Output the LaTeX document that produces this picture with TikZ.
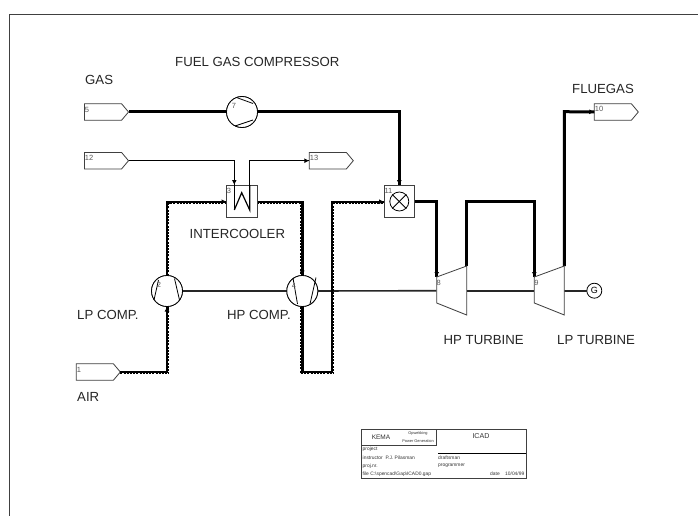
\documentclass[tikz,border=0pt]{standalone}
\usepackage{fontspec}
\setmainfont{Liberation Sans}
\usetikzlibrary{arrows.meta,shapes.symbols}
\definecolor{numgrey}{gray}{0.35}
\definecolor{edge}{gray}{0.25}
\tikzset{
  streambox/.style={shape=signal,signal to=east,signal from=nowhere,signal pointer angle=100,draw=edge,line width=0.8pt,fill=white,minimum width=44pt,minimum height=16.6pt,inner sep=0pt,outer sep=0pt,anchor=west},
  comp/.style={circle,draw=black,line width=0.8pt,fill=white,minimum size=31pt,inner sep=0pt,outer sep=0pt},
  unitbox/.style={rectangle,draw=edge,line width=0.9pt,fill=white,minimum width=30.5pt,minimum height=32.7pt,inner sep=0pt,outer sep=0pt},
  gen/.style={circle,draw=black,line width=0.8pt,fill=white,minimum size=15pt,inner sep=0pt,outer sep=0pt,font=\fontsize{9}{9}\selectfont},
  lab/.style={font=\fontsize{13.2}{14}\selectfont,inner sep=0pt,anchor=west,text=black!85},
  numlab/.style={font=\fontsize{7.5}{8}\selectfont,inner sep=0pt,text=numgrey},
  tiny/.style={font=\fontsize{4.9}{5}\selectfont,inner sep=0pt,anchor=west,text=black!80},
  tip/.style={-{Latex[length=5pt,width=5pt]}},
  thin stream/.style={line width=1pt,black},
  shaft/.style={line width=1.6pt,black!85},
  gas/.style={line width=3pt,black,line join=miter},
  air/.style={line width=2.4pt,black,line join=miter},
  airdash/.style={line width=1.3pt,black,dash pattern=on 2pt off 1.2pt},
  blade/.style={line width=0.8pt,black},
}
\begin{document}
\begin{tikzpicture}[x=1pt,y=-1pt]
\useasboundingbox (0,0) rectangle (698,516);
\fill[white] (0,0) rectangle (698,516);
\draw[line width=1.2pt,edge] (9.5,516) -- (9.5,14.5) -- (698,14.5);

% nodes
\node[streambox] (s5) at (84.5,112) {};
\node[streambox] (s12) at (84.5,160.7) {};
\node[streambox] (s13) at (309.3,160.7) {};
\node[streambox] (s1) at (76.3,372) {};
\node[streambox] (s10) at (594.3,112) {};
\node[comp] (c7) at (242,112) {};
\node[comp] (c2) at (167,291) {};
\node[comp] (c4) at (302.3,291) {};
\node[unitbox] (x3) at (241.8,201.5) {};
\node[unitbox] (m11) at (399.3,201.5) {};
\node[circle,draw=black,line width=0.8pt,minimum size=19pt,inner sep=0pt] (m11c) at (399.3,201.5) {};
\node[gen] (g) at (594.3,290.7) {G};

% turbines
\coordinate (t8in) at (436.7,277);
\coordinate (t8out) at (466.7,266);
\coordinate (t8L) at (436.7,290.7);
\coordinate (t8R) at (466.7,290.7);
\coordinate (t9in) at (534.3,277);
\coordinate (t9out) at (564.3,266);
\coordinate (t9L) at (534.3,290.7);
\coordinate (t9R) at (564.3,290.7);

% shaft
\draw[shaft] (c2.east) -- (c4.west);
\draw[shaft] (c4.east) -- (t8L);
\draw[shaft] (t8R) -- (t9L);
\draw[shaft] (t9R) -- (g.west);

% fuel gas
\coordinate (f1) at (399.3,112);
\draw[gas] (s5.east) -- (c7.west);
\draw[gas] (c7.east) -- (f1) -- (m11.north);
\draw[tip,line width=1pt] (233,112) -- (c7.west);
\draw[tip,line width=1pt] (399.3,178) -- (m11.north);

% flue gas path
\coordinate (h1) at (436.7,201);
\coordinate (h2) at (466.7,201.5);
\coordinate (h3) at (534.3,201.5);
\coordinate (h4) at (564.3,111.7);
\draw[gas] (m11.east |- h1) -- (h1) -- (t8in);
\draw[gas] (t8out) -- (h2) -- (h3) -- (t9in);
\draw[gas] (t9out) -- (h4) -- (s10.west);
\draw[tip,line width=1pt] (436.7,272) -- (t8in);
\draw[tip,line width=1pt] (534.3,272) -- (t9in);
\draw[tip,line width=1pt] (587,111.7) -- (s10.west);

% air path
\coordinate (a1) at (167,372);
\coordinate (a2) at (167,201.7);
\coordinate (a3) at (302.3,201.7);
\coordinate (a4) at (302.3,371.7);
\coordinate (a5) at (331.7,371.7);
\coordinate (a6) at (331.7,201.7);
\draw[air] (s1.east) -- (a1) -- (c2.south);
\draw[air] (c2.north) -- (a2) -- (x3.west |- a2);
\draw[air] (x3.east |- a3) -- (a3) -- (c4.north);
\draw[air] (c4.south) -- (a4) -- (a5) -- (a6) -- (m11.west |- a6);
% dotted edge, on the right-hand side of the flow
\draw[airdash] ([shift={(0,1.7)}]s1.east) -- ([shift={(1.7,1.7)}]a1) -- ([shift={(1.7,0)}]c2.south);
\draw[airdash] ([shift={(1.7,0)}]c2.north) -- ([shift={(1.7,1.7)}]a2) -- ([shift={(0,1.7)}]x3.west |- a2);
\draw[airdash] ([shift={(0,1.7)}]x3.east |- a3) -- ([shift={(-1.7,1.7)}]a3) -- ([shift={(-1.7,0)}]c4.north);
\draw[airdash] ([shift={(-1.7,0)}]c4.south) -- ([shift={(-1.7,1.7)}]a4) -- ([shift={(1.7,1.7)}]a5) -- ([shift={(1.7,1.7)}]a6) -- ([shift={(0,1.7)}]m11.west |- a6);
\draw[tip,line width=1pt] (167,312) -- (c2.south);
\draw[tip,line width=1pt] (220,201.7) -- (x3.west |- a2);
\draw[tip,line width=1pt] (302.3,270) -- (c4.north);
\draw[tip,line width=1pt] (377,201.7) -- (m11.west |- a6);

% redraw unit faces on top of the streams
\node[comp] at (c7) {};
\node[comp] at (c2) {};
\node[comp] at (c4) {};
\node[unitbox] at (x3) {};
\node[unitbox] at (m11) {};
\node[circle,draw=black,line width=0.8pt,minimum size=19pt,inner sep=0pt] at (m11c) {};
\draw[line width=0.8pt] (m11c.north west) -- (m11c.south east);
\draw[line width=0.8pt] (m11c.north east) -- (m11c.south west);
\draw[draw=edge,fill=white,line width=0.8pt] (t8in) -- (t8out) -- (466.7,315) -- (436.7,303) -- cycle;
\draw[draw=edge,fill=white,line width=0.8pt] (t9in) -- (t9out) -- (564.3,315) -- (534.3,303) -- cycle;

% blades
\draw[blade] (236.5,97.5) -- (253,103.5);
\draw[blade] (235,126) -- (253,120);
\draw[blade] (158.5,280) -- (154,300);
\draw[blade] (174.5,278.5) -- (179.5,300);
\draw[blade] (293,278) -- (297.5,304);
\draw[blade] (316,277.5) -- (310,304);

% intercooler water
\coordinate (w1) at (234.3,160.7);
\coordinate (w2) at (249.7,160.7);
\draw[thin stream] (s12.east) -- (w1) -- (234.3,185);
\draw[tip,line width=1pt] (234.3,176) -- (234.3,185);
\draw[line width=1.2pt,line join=miter] (234.3,210) -- (234.3,185);
\draw[line width=1.2pt,line join=miter] (234.3,210) -- (241.7,192.7) -- (249.7,210) -- (249.7,185);
\draw[thin stream] (249.7,185) -- (w2) -- (s13.west);
\draw[tip,line width=1pt] (302,160.7) -- (s13.west);

% numbers
\node[numlab] (n5) at (87,109.5) {5};
\node[numlab] (n12) at (89,158) {12};
\node[numlab] (n13) at (314,158) {13};
\node[numlab] (n1) at (79,369.5) {1};
\node[numlab] (n10) at (599,109) {10};
\node[numlab] (n7) at (234,106) {7};
\node[numlab] (n2) at (159,285) {2};
\node[numlab] (n4) at (294,285.5) {4};
\node[numlab] (n3) at (229,190.5) {3};
\node[numlab] (n11) at (388.5,190.5) {11};
\node[numlab] (n8) at (438.7,283) {8};
\node[numlab] (n9) at (536.5,283) {9};

% labels
\node[lab] (lfg) at (175,61.5) {FUEL GAS COMPRESSOR};
\node[lab] (lgas) at (85,79.5) {GAS};
\node[lab] (lflue) at (572,88.5) {FLUEGAS};
\node[lab] (lic) at (189.5,234) {INTERCOOLER};
\node[lab] (llp) at (77,315) {LP COMP.};
\node[lab] (lhp) at (227,315) {HP COMP.};
\node[lab] (lair) at (77,396.5) {AIR};
\node[lab] (lhpt) at (443.5,340) {HP TURBINE};
\node[lab] (llpt) at (557,340) {LP TURBINE};

% title block
\coordinate (b1) at (361,429);
\coordinate (b2) at (526,478);
\draw[line width=0.8pt,edge] (b1) rectangle (b2);
\draw[line width=0.8pt,edge] (361,445.3) -- (436.7,445.3) -- (436.7,429);
\draw[line width=0.9pt,black] (438,453.3) -- (526,453.3);
\node[font=\fontsize{6.5}{7}\selectfont,inner sep=0pt,text=black!80] (bk) at (381,437.5) {KEMA};
\node[font=\fontsize{7.1}{8}\selectfont,inner sep=0pt,text=black!80] (bi) at (481,436) {ICAD};
\node[font=\fontsize{3.9}{4}\selectfont,inner sep=0pt,text=black!80] (bo) at (418,433.5) {Opwekking};
\node[font=\fontsize{3.9}{4}\selectfont,inner sep=0pt,text=black!80] (bp) at (418,441) {Power Generation};
\node[tiny] (b3) at (362.5,449) {project};
\node[tiny] (b4) at (362.5,457.5) {instructor\ \ P.J. Pilasman};
\node[tiny] (b5) at (362.5,466) {proj.nr.};
\node[tiny] (b6) at (362.5,474) {file C:\textbackslash spencad\textbackslash Gap\textbackslash ICAD0.gap};
\node[tiny] (b7) at (438,457.5) {draftsman};
\node[tiny] (b8) at (438,466) {programmer};
\node[tiny] (b9) at (490,474) {date};
\node[tiny] (b10) at (505,474) {10/04/99};
\end{tikzpicture}
\end{document}
